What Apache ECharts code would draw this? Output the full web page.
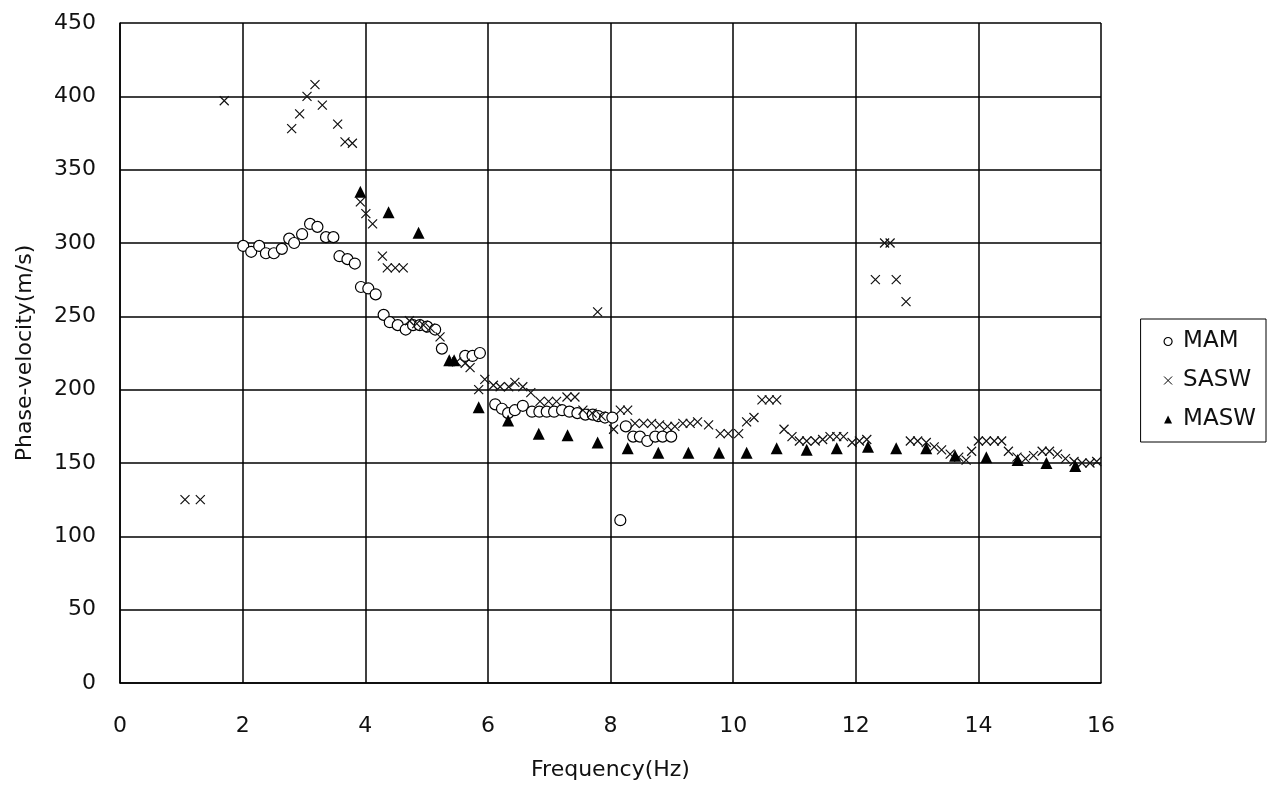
<!DOCTYPE html>
<html>
<head>
<meta charset="utf-8">
<script src="https://cdn.jsdelivr.net/npm/echarts@6/dist/echarts.min.js"></script>
<style>
  html, body { margin: 0; padding: 0; background: #fff; }
  #chart { width: 1275px; height: 787px; }
</style>
</head>
<body>
<div id="chart"></div>
<script>
// [frequency (Hz), phase velocity (m/s)]
var mamData = [
  [2.01, 298], [2.14, 294], [2.27, 298], [2.38, 293], [2.51, 293], [2.64, 296], [2.76, 303], [2.84, 300],
  [2.97, 306], [3.10, 313], [3.22, 311], [3.36, 304], [3.48, 304], [3.58, 291], [3.71, 289], [3.83, 286],
  [3.93, 270], [4.05, 269], [4.17, 265], [4.30, 251], [4.40, 246], [4.53, 244], [4.66, 241], [4.78, 244],
  [4.89, 244], [5.01, 243], [5.14, 241], [5.25, 228], [5.63, 223], [5.75, 223], [5.87, 225], [6.12, 190],
  [6.23, 187], [6.33, 184], [6.44, 186], [6.57, 189], [6.72, 185], [6.84, 185], [6.96, 185], [7.08, 185],
  [7.21, 186], [7.33, 185], [7.46, 184], [7.59, 183], [7.71, 183], [7.80, 182], [7.91, 181], [8.03, 181],
  [8.16, 111], [8.25, 175], [8.37, 168], [8.48, 168], [8.60, 165], [8.73, 168], [8.85, 168], [8.99, 168]
];
var saswData = [
  [1.06, 125], [1.31, 125], [1.70, 397], [2.80, 378], [2.93, 388], [3.05, 400], [3.18, 408], [3.30, 394],
  [3.55, 381], [3.67, 369], [3.79, 368], [3.92, 328], [4.01, 320], [4.12, 313], [4.28, 291], [4.36, 283],
  [4.49, 283], [4.62, 283], [4.72, 247], [4.84, 245], [4.95, 244], [5.06, 242], [5.22, 236], [5.49, 219],
  [5.63, 218], [5.71, 215], [5.85, 200], [5.95, 207], [6.09, 203], [6.20, 202], [6.34, 202], [6.44, 205],
  [6.57, 202], [6.70, 198], [6.85, 192], [6.99, 192], [7.12, 192], [7.29, 195], [7.42, 195], [7.55, 186],
  [7.70, 184], [7.79, 253], [7.85, 182], [8.05, 173], [8.16, 186], [8.28, 186], [8.40, 177], [8.54, 177],
  [8.67, 177], [8.80, 176], [8.93, 175], [9.05, 175], [9.18, 177], [9.30, 177], [9.42, 178], [9.60, 176],
  [9.79, 170], [9.92, 170], [10.09, 170], [10.22, 178], [10.34, 181], [10.47, 193], [10.59, 193], [10.71, 193],
  [10.83, 173], [10.96, 168], [11.08, 165], [11.20, 165], [11.34, 165], [11.46, 166], [11.58, 168], [11.69, 168],
  [11.80, 168], [11.94, 164], [12.06, 165], [12.18, 166], [12.32, 275], [12.47, 300], [12.56, 300], [12.66, 275],
  [12.82, 260], [12.89, 165], [13.01, 165], [13.15, 164], [13.28, 161], [13.40, 159], [13.54, 156], [13.68, 154],
  [13.80, 152], [13.89, 158], [14.00, 165], [14.13, 165], [14.26, 165], [14.38, 165], [14.49, 158], [14.63, 154],
  [14.77, 153], [14.90, 155], [15.04, 158], [15.16, 158], [15.29, 156], [15.42, 153], [15.56, 151], [15.69, 150],
  [15.82, 150], [15.93, 151]
];
var maswData = [
  [3.92, 335], [4.38, 321], [4.87, 307], [5.37, 220], [5.45, 220], [5.85, 188], [6.33, 179], [6.83, 170],
  [7.30, 169], [7.79, 164], [8.28, 160], [8.78, 157], [9.27, 157], [9.77, 157], [10.22, 157], [10.71, 160],
  [11.20, 159], [11.69, 160], [12.20, 161], [12.66, 160], [13.15, 160], [13.62, 155], [14.13, 154], [14.64, 152],
  [15.11, 150], [15.58, 148]
];
var seriesNames = ['MAM', 'SASW', 'MASW'];

var font = 'DejaVu Sans';
var crossPath = 'path://M0,0L10,10M10,0L0,10';

var chart = echarts.init(document.getElementById('chart'));
chart.setOption({
  animation: false,
  backgroundColor: '#fff',
  textStyle: { fontFamily: font, color: '#111' },
  grid: { left: 120, right: 174, top: 23, bottom: 104, outerBoundsMode: 'none' },
  legend: {
    orient: 'vertical',
    right: 9,
    top: 319,
    borderColor: '#000',
    borderWidth: 1,
    padding: [11, 10, 11, 21],
    itemGap: 16,
    itemWidth: 8,
    itemHeight: 8,
    textStyle: { fontSize: 23, color: '#111', fontFamily: font, padding: [0, 0, 0, 6] },
    data: [
      { name: seriesNames[0], icon: 'circle', itemStyle: { color: '#fff', borderColor: '#000', borderWidth: 1.2 } },
      { name: seriesNames[1], icon: crossPath, itemStyle: { color: 'none', borderColor: '#000', borderWidth: 1 } },
      { name: seriesNames[2], icon: 'triangle', itemStyle: { color: '#000' } }
    ]
  },
  xAxis: {
    type: 'value',
    min: 0,
    max: 16,
    interval: 2,
    name: 'Frequency(Hz)',
    nameLocation: 'middle',
    nameGap: 76,
    nameTextStyle: { fontSize: 22, color: '#111' },
    axisLine: { lineStyle: { color: '#000', width: 1.5 } },
    axisTick: { show: false },
    axisLabel: { fontSize: 22, color: '#111', margin: 32 },
    splitLine: { lineStyle: { color: '#000', width: 1.5 } }
  },
  yAxis: {
    type: 'value',
    min: 0,
    max: 450,
    interval: 50,
    name: 'Phase-velocity(m/s)',
    nameLocation: 'middle',
    nameGap: 84,
    nameTextStyle: { fontSize: 22, color: '#111' },
    axisLine: { show: true, lineStyle: { color: '#000', width: 1.5 } },
    axisTick: { show: false },
    axisLabel: { fontSize: 22, color: '#111', margin: 24 },
    splitLine: { lineStyle: { color: '#000', width: 1.5 } }
  },
  series: [
    {
      name: seriesNames[0],
      type: 'scatter',
      symbol: 'circle',
      symbolSize: 11,
      itemStyle: { color: '#fff', borderColor: '#000', borderWidth: 1.2, opacity: 1 },
      data: mamData,
      z: 2
    },
    {
      name: seriesNames[1],
      type: 'scatter',
      symbol: crossPath,
      symbolSize: 9,
      itemStyle: { color: 'none', borderColor: '#111', borderWidth: 1.2, opacity: 1 },
      data: saswData,
      z: 3
    },
    {
      name: seriesNames[2],
      type: 'scatter',
      symbol: 'triangle',
      symbolSize: 12,
      itemStyle: { color: '#000', opacity: 1 },
      data: maswData,
      z: 4
    }
  ]
});
</script>
</body>
</html>
